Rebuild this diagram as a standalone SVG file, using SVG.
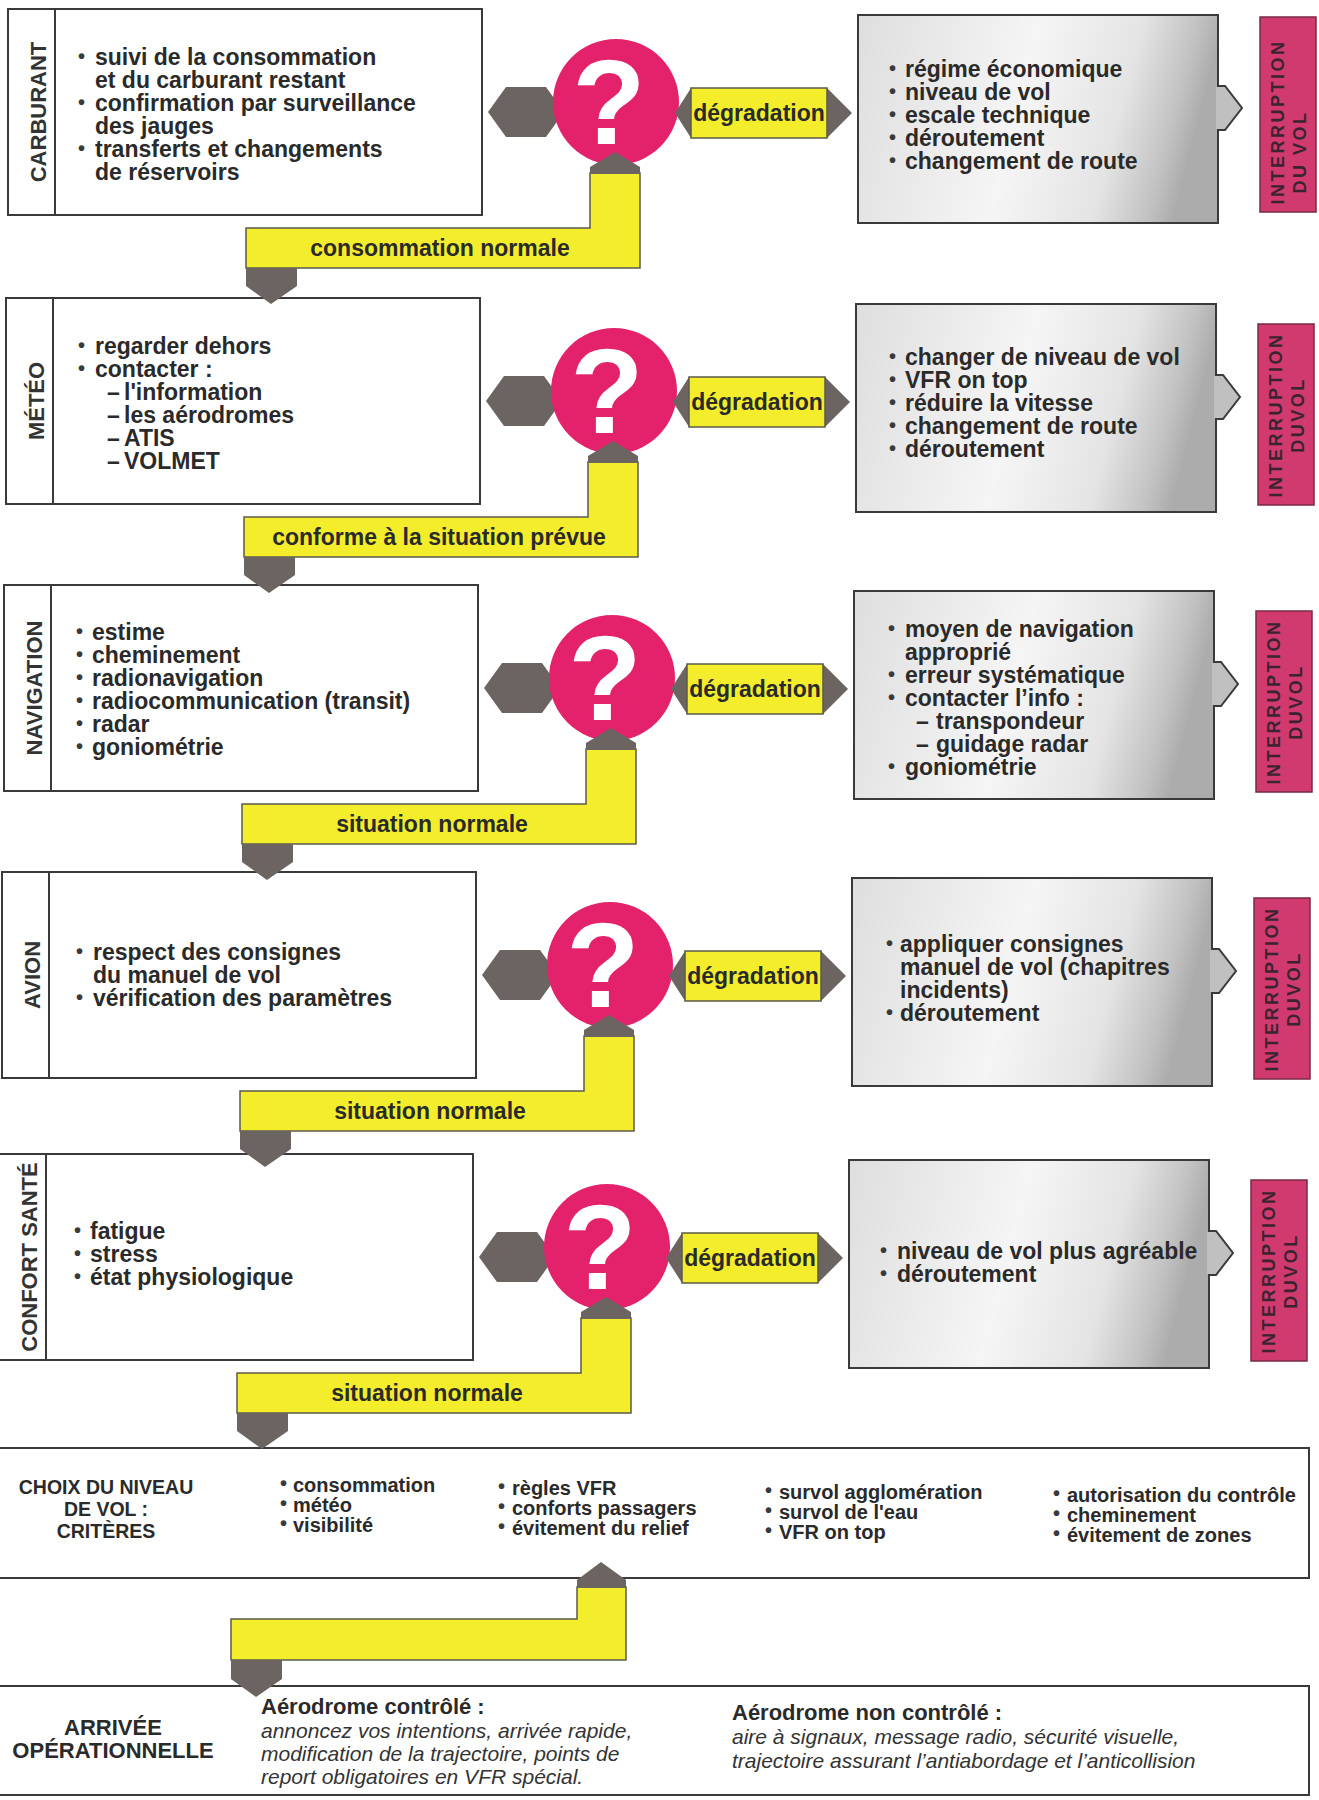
<svg xmlns="http://www.w3.org/2000/svg" width="1319" height="1800" viewBox="0 0 1319 1800">
<defs>
<linearGradient id="rg" x1="0" y1="0" x2="1" y2="0.15">
<stop offset="0" stop-color="#dedede"/>
<stop offset="0.5" stop-color="#f5f5f5"/>
<stop offset="0.78" stop-color="#e4e4e4"/>
<stop offset="0.93" stop-color="#c2c2c2"/>
<stop offset="1" stop-color="#acacac"/>
</linearGradient>
<style>
.bx{fill:#fff;stroke:#3a3a3a;stroke-width:2}
.rb{fill:url(#rg);stroke:#3a3a3a;stroke-width:2}
.ln{stroke:#3a3a3a;stroke-width:2;fill:none}
.t{font-family:"Liberation Sans",Arial,Helvetica,sans-serif;font-weight:bold;font-size:23px;fill:#2a2a2a}
.b{font-family:"Liberation Sans",Arial,sans-serif;font-weight:bold;font-size:20px;fill:#3a3a3a}
.v{font-family:"Liberation Sans",Arial,sans-serif;font-weight:bold;font-size:22px;fill:#333;text-anchor:middle}
.gr{fill:#6c6461}
.ye{fill:#f4ed2c;stroke:#5a5a4a;stroke-width:1.5}
.ci{fill:#e3226b}
.q{font-family:"Liberation Sans",Arial,sans-serif;font-weight:bold;font-size:120px;fill:#fff;text-anchor:middle}
.pb{fill:#d13a6e;stroke:#7a2a45;stroke-width:1.5}
.pt{font-family:"Liberation Sans",Arial,sans-serif;font-weight:bold;font-size:18px;fill:#3b2430;text-anchor:middle;letter-spacing:2.5px}
.s{font-size:20px}
.h{font-size:22px}
.k{font-size:19.5px}
.i{font-family:"Liberation Sans",Arial,sans-serif;font-style:italic;font-size:21px;fill:#333}
.c{text-anchor:middle}
.tab{fill:#c0c0c0;stroke:#3a3a3a;stroke-width:2}
</style>
</defs>
<rect width="1319" height="1800" fill="#fff"/>

<!-- ROW 1 -->
<g id="row1" transform="translate(0,0)">
<g id="carburant">
<rect class="bx" x="8" y="9" width="474" height="206"/>
<line class="ln" x1="55" y1="9" x2="55" y2="215"/>
<text class="v" transform="translate(46,112) rotate(-90)">CARBURANT</text>
<text class="b" x="78" y="63">•</text><text class="t" x="95" y="65">suivi de la consommation</text>
<text class="t" x="95" y="88">et du carburant restant</text>
<text class="b" x="78" y="109">•</text><text class="t" x="95" y="111">confirmation par surveillance</text>
<text class="t" x="95" y="134">des jauges</text>
<text class="b" x="78" y="155">•</text><text class="t" x="95" y="157">transferts et changements</text>
<text class="t" x="95" y="180">de réservoirs</text>
</g>
<g id="decision1">
<polygon class="gr" points="488,112 506,87 546,87 564,112 546,137 506,137"/>
<circle class="ci" cx="616" cy="102" r="63"/>
<text class="q" x="609" y="144">?</text>
</g>
<g id="actions1">
<rect class="rb" x="858" y="15" width="360" height="208"/>
<polygon class="tab" points="1218,86 1225,86 1242,108 1225,130 1218,130"/>
<rect x="1216" y="87" width="4" height="42" fill="#c0c0c0"/>
<text class="b" x="889" y="75">•</text><text class="t" x="905" y="77">régime économique</text>
<text class="b" x="889" y="98">•</text><text class="t" x="905" y="100">niveau de vol</text>
<text class="b" x="889" y="121">•</text><text class="t" x="905" y="123">escale technique</text>
<text class="b" x="889" y="144">•</text><text class="t" x="905" y="146">déroutement</text>
<text class="b" x="889" y="167">•</text><text class="t" x="905" y="169">changement de route</text>
</g>
<g id="interruption1">
<rect class="pb" x="1260" y="17" width="56" height="195"/>
<text class="pt" transform="translate(1284,122) rotate(-90)">INTERRUPTION</text>
<text class="pt" transform="translate(1306,152) rotate(-90)">DU VOL</text>
</g>
</g>

<!-- ROW 2 -->
<g id="row2" transform="translate(-2,289)">
<g id="meteo">
<rect class="bx" x="8" y="9" width="474" height="206"/>
<line class="ln" x1="55" y1="9" x2="55" y2="215"/>
<text class="v" transform="translate(46,112) rotate(-90)">MÉTÉO</text>
<text class="b" x="80" y="63">•</text><text class="t" x="97" y="65">regarder dehors</text>
<text class="b" x="80" y="86">•</text><text class="t" x="97" y="88">contacter :</text>
<text class="t" x="109" y="111">–</text><text class="t" x="126" y="111">l'information</text>
<text class="t" x="109" y="134">–</text><text class="t" x="126" y="134">les aérodromes</text>
<text class="t" x="109" y="157">–</text><text class="t" x="126" y="157">ATIS</text>
<text class="t" x="109" y="180">–</text><text class="t" x="126" y="180">VOLMET</text>
</g>
<g id="decision2">
<polygon class="gr" points="488,112 506,87 546,87 564,112 546,137 506,137"/>
<circle class="ci" cx="616" cy="102" r="63"/>
<text class="q" x="609" y="144">?</text>
</g>
<g id="actions2">
<rect class="rb" x="858" y="15" width="360" height="208"/>
<polygon class="tab" points="1218,86 1225,86 1242,108 1225,130 1218,130"/>
<rect x="1216" y="87" width="4" height="42" fill="#c0c0c0"/>
<text class="b" x="891" y="74">•</text><text class="t" x="907" y="76">changer de niveau de vol</text>
<text class="b" x="891" y="97">•</text><text class="t" x="907" y="99">VFR on top</text>
<text class="b" x="891" y="120">•</text><text class="t" x="907" y="122">réduire la vitesse</text>
<text class="b" x="891" y="143">•</text><text class="t" x="907" y="145">changement de route</text>
<text class="b" x="891" y="166">•</text><text class="t" x="907" y="168">déroutement</text>
</g>
<g id="interruption2">
<rect class="pb" x="1260" y="35" width="56" height="181"/>
<text class="pt" transform="translate(1284,126) rotate(-90)">INTERRUPTION</text>
<text class="pt" transform="translate(1306,126) rotate(-90)">DUVOL</text>
</g>
</g>

<!-- ROW 3 -->
<g id="row3" transform="translate(-4,576)">
<g id="navigation">
<rect class="bx" x="8" y="9" width="474" height="206"/>
<line class="ln" x1="55" y1="9" x2="55" y2="215"/>
<text class="v" transform="translate(46,112) rotate(-90)">NAVIGATION</text>
<text class="b" x="80" y="62">•</text><text class="t" x="96" y="64">estime</text>
<text class="b" x="80" y="85">•</text><text class="t" x="96" y="87">cheminement</text>
<text class="b" x="80" y="108">•</text><text class="t" x="96" y="110">radionavigation</text>
<text class="b" x="80" y="131">•</text><text class="t" x="96" y="133">radiocommunication (transit)</text>
<text class="b" x="80" y="154">•</text><text class="t" x="96" y="156">radar</text>
<text class="b" x="80" y="177">•</text><text class="t" x="96" y="179">goniométrie</text>
</g>
<g id="decision3">
<polygon class="gr" points="488,112 506,87 546,87 564,112 546,137 506,137"/>
<circle class="ci" cx="616" cy="102" r="63"/>
<text class="q" x="609" y="144">?</text>
</g>
<g id="actions3">
<rect class="rb" x="858" y="15" width="360" height="208"/>
<polygon class="tab" points="1218,86 1225,86 1242,108 1225,130 1218,130"/>
<rect x="1216" y="87" width="4" height="42" fill="#c0c0c0"/>
<text class="b" x="892" y="59">•</text><text class="t" x="909" y="61">moyen de navigation</text>
<text class="t" x="909" y="84">approprié</text>
<text class="b" x="892" y="105">•</text><text class="t" x="909" y="107">erreur systématique</text>
<text class="b" x="892" y="128">•</text><text class="t" x="909" y="130">contacter l’info :</text>
<text class="t" x="920" y="153">–</text><text class="t" x="940" y="153">transpondeur</text>
<text class="t" x="920" y="176">–</text><text class="t" x="940" y="176">guidage radar</text>
<text class="b" x="892" y="197">•</text><text class="t" x="909" y="199">goniométrie</text>
</g>
<g id="interruption3">
<rect class="pb" x="1260" y="35" width="56" height="181"/>
<text class="pt" transform="translate(1284,126) rotate(-90)">INTERRUPTION</text>
<text class="pt" transform="translate(1306,126) rotate(-90)">DUVOL</text>
</g>
</g>

<!-- ROW 4 -->
<g id="row4" transform="translate(-6,863)">
<g id="avion">
<rect class="bx" x="8" y="9" width="474" height="206"/>
<line class="ln" x1="55" y1="9" x2="55" y2="215"/>
<text class="v" transform="translate(46,112) rotate(-90)">AVION</text>
<text class="b" x="82" y="95">•</text><text class="t" x="99" y="97">respect des consignes</text>
<text class="t" x="99" y="120">du manuel de vol</text>
<text class="b" x="82" y="141">•</text><text class="t" x="99" y="143">vérification des paramètres</text>
</g>
<g id="decision4">
<polygon class="gr" points="488,112 506,87 546,87 564,112 546,137 506,137"/>
<circle class="ci" cx="616" cy="102" r="63"/>
<text class="q" x="609" y="144">?</text>
</g>
<g id="actions4">
<rect class="rb" x="858" y="15" width="360" height="208"/>
<polygon class="tab" points="1218,86 1225,86 1242,108 1225,130 1218,130"/>
<rect x="1216" y="87" width="4" height="42" fill="#c0c0c0"/>
<text class="b" x="892" y="87">•</text><text class="t" x="906" y="89">appliquer consignes</text>
<text class="t" x="906" y="112">manuel de vol (chapitres</text>
<text class="t" x="906" y="135">incidents)</text>
<text class="b" x="892" y="156">•</text><text class="t" x="906" y="158">déroutement</text>
</g>
<g id="interruption4">
<rect class="pb" x="1260" y="35" width="56" height="181"/>
<text class="pt" transform="translate(1284,126) rotate(-90)">INTERRUPTION</text>
<text class="pt" transform="translate(1306,126) rotate(-90)">DUVOL</text>
</g>
</g>

<!-- ROW 5 -->
<g id="row5" transform="translate(-9,1145)">
<g id="confort">
<rect class="bx" x="8" y="9" width="474" height="206"/>
<line class="ln" x1="55" y1="9" x2="55" y2="215"/>
<text class="v" transform="translate(46,112) rotate(-90)">CONFORT SANTÉ</text>
<text class="b" x="83" y="92">•</text><text class="t" x="99" y="94">fatigue</text>
<text class="b" x="83" y="115">•</text><text class="t" x="99" y="117">stress</text>
<text class="b" x="83" y="138">•</text><text class="t" x="99" y="140">état physiologique</text>
</g>
<g id="decision5">
<polygon class="gr" points="488,112 506,87 546,87 564,112 546,137 506,137"/>
<circle class="ci" cx="616" cy="102" r="63"/>
<text class="q" x="609" y="144">?</text>
</g>
<g id="actions5">
<rect class="rb" x="858" y="15" width="360" height="208"/>
<polygon class="tab" points="1218,86 1225,86 1242,108 1225,130 1218,130"/>
<rect x="1216" y="87" width="4" height="42" fill="#c0c0c0"/>
<text class="b" x="889" y="112">•</text><text class="t" x="906" y="114">niveau de vol plus agréable</text>
<text class="b" x="889" y="135">•</text><text class="t" x="906" y="137">déroutement</text>
</g>
<g id="interruption5">
<rect class="pb" x="1260" y="35" width="56" height="181"/>
<text class="pt" transform="translate(1284,126) rotate(-90)">INTERRUPTION</text>
<text class="pt" transform="translate(1306,126) rotate(-90)">DUVOL</text>
</g>
</g>

<!-- BOTTOM -->
<g id="choix">
<path class="ln" d="M0,1448 H1309 V1578 H0"/>
<text class="t k c" x="106" y="1494">CHOIX DU NIVEAU</text>
<text class="t k c" x="106" y="1516">DE VOL :</text>
<text class="t k c" x="106" y="1538">CRITÈRES</text>
<text class="b" x="280" y="1490">•</text><text class="t s" x="293" y="1492">consommation</text>
<text class="b" x="280" y="1510">•</text><text class="t s" x="293" y="1512">météo</text>
<text class="b" x="280" y="1530">•</text><text class="t s" x="293" y="1532">visibilité</text>
<text class="b" x="498" y="1493">•</text><text class="t s" x="512" y="1495">règles VFR</text>
<text class="b" x="498" y="1513">•</text><text class="t s" x="512" y="1515">conforts passagers</text>
<text class="b" x="498" y="1533">•</text><text class="t s" x="512" y="1535">évitement du relief</text>
<text class="b" x="765" y="1497">•</text><text class="t s" x="779" y="1499">survol agglomération</text>
<text class="b" x="765" y="1517">•</text><text class="t s" x="779" y="1519">survol de l'eau</text>
<text class="b" x="765" y="1537">•</text><text class="t s" x="779" y="1539">VFR on top</text>
<text class="b" x="1053" y="1500">•</text><text class="t s" x="1067" y="1502">autorisation du contrôle</text>
<text class="b" x="1053" y="1520">•</text><text class="t s" x="1067" y="1522">cheminement</text>
<text class="b" x="1053" y="1540">•</text><text class="t s" x="1067" y="1542">évitement de zones</text>
</g>
<g id="arrivee">
<path class="ln" d="M0,1686 H1309 V1795 H0"/>
<text class="t h c" x="113" y="1735">ARRIVÉE</text>
<text class="t h c" x="113" y="1758">OPÉRATIONNELLE</text>
<text class="t h" x="261" y="1714">Aérodrome contrôlé :</text>
<text class="i" x="261" y="1738">annoncez vos intentions, arrivée rapide,</text>
<text class="i" x="261" y="1761">modification de la trajectoire, points de</text>
<text class="i" x="261" y="1784">report obligatoires en VFR spécial.</text>
<text class="t h" x="732" y="1720">Aérodrome non contrôlé :</text>
<text class="i" x="732" y="1744">aire à signaux, message radio, sécurité visuelle,</text>
<text class="i" x="732" y="1768">trajectoire assurant l’antiabordage et l’anticollision</text>
</g>

<!-- CONNECTORS -->
<g id="connectors">
<g transform="translate(0,0)">
<polygon class="gr" points="675,113 691,88 827,88 852,113 827,138 691,138"/>
<rect class="ye" x="691" y="88" width="136" height="50"/>
<text class="t c" x="759" y="121">dégradation</text>
<polygon class="ye" points="590,173 640,173 640,268 246,268 246,228 590,228"/>
<polygon class="gr" points="590,174 590,167 615,152 640,167 640,174"/>
<polygon class="gr" points="246,268 297,268 297,286 271,304 246,286"/>
<text class="t c" x="440" y="256">consommation normale</text>
</g>
<g transform="translate(-2,289)">
<polygon class="gr" points="675,113 691,88 827,88 852,113 827,138 691,138"/>
<rect class="ye" x="691" y="88" width="136" height="50"/>
<text class="t c" x="759" y="121">dégradation</text>
<polygon class="ye" points="590,173 640,173 640,268 246,268 246,228 590,228"/>
<polygon class="gr" points="590,174 590,167 615,152 640,167 640,174"/>
<polygon class="gr" points="246,268 297,268 297,286 271,304 246,286"/>
<text class="t c" x="441" y="256">conforme à la situation prévue</text>
</g>
<g transform="translate(-4,576)">
<polygon class="gr" points="675,113 691,88 827,88 852,113 827,138 691,138"/>
<rect class="ye" x="691" y="88" width="136" height="50"/>
<text class="t c" x="759" y="121">dégradation</text>
<polygon class="ye" points="590,173 640,173 640,268 246,268 246,228 590,228"/>
<polygon class="gr" points="590,174 590,167 615,152 640,167 640,174"/>
<polygon class="gr" points="246,268 297,268 297,286 271,304 246,286"/>
<text class="t c" x="436" y="256">situation normale</text>
</g>
<g transform="translate(-6,863)">
<polygon class="gr" points="675,113 691,88 827,88 852,113 827,138 691,138"/>
<rect class="ye" x="691" y="88" width="136" height="50"/>
<text class="t c" x="759" y="121">dégradation</text>
<polygon class="ye" points="590,173 640,173 640,268 246,268 246,228 590,228"/>
<polygon class="gr" points="590,174 590,167 615,152 640,167 640,174"/>
<polygon class="gr" points="246,268 297,268 297,286 271,304 246,286"/>
<text class="t c" x="436" y="256">situation normale</text>
</g>
<g transform="translate(-9,1145)">
<polygon class="gr" points="675,113 691,88 827,88 852,113 827,138 691,138"/>
<rect class="ye" x="691" y="88" width="136" height="50"/>
<text class="t c" x="759" y="121">dégradation</text>
<polygon class="ye" points="590,173 640,173 640,268 246,268 246,228 590,228"/>
<polygon class="gr" points="590,174 590,167 615,152 640,167 640,174"/>
<polygon class="gr" points="246,268 297,268 297,286 271,304 246,286"/>
<text class="t c" x="436" y="256">situation normale</text>
</g>
<polygon class="ye" points="577,1587 626,1587 626,1660 231,1660 231,1619 577,1619"/>
<polygon class="gr" points="577,1588 577,1580 601,1562 626,1580 626,1588"/>
<polygon class="gr" points="231,1660 282,1660 282,1679 256,1697 231,1679"/>
</g>
</svg>
